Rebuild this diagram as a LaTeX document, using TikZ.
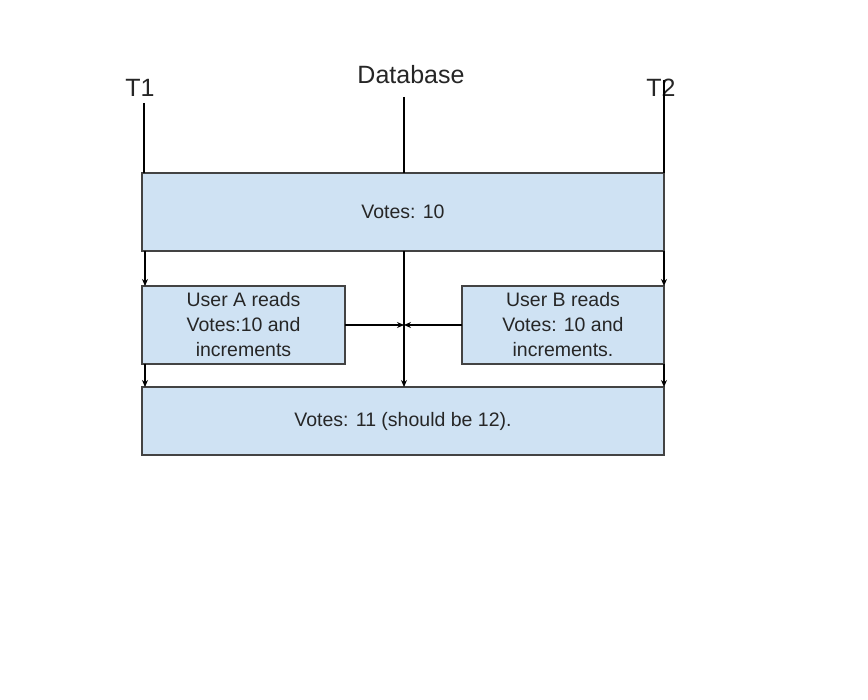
\documentclass[tikz,border=0pt]{standalone}
\usepackage{fontspec}
\setmainfont{Liberation Sans}
\usetikzlibrary{arrows.meta,calc}
\definecolor{boxblue}{HTML}{CFE2F3}
\definecolor{boxline}{HTML}{434343}
\tikzset{
  votebox/.style={draw=boxline,fill=boxblue,line width=1.3pt,inner sep=0pt,outer sep=0pt,
    font=\fontsize{19.5}{25}\selectfont,align=center,text=black!85},
  lbl/.style={font=\fontsize{25}{28}\selectfont,text=black!85},
  arr/.style={-{Stealth[length=7pt,width=6pt]},line width=1.1pt},
  ln/.style={line width=1.1pt}
}
\begin{document}
\begin{tikzpicture}[x=1pt,y=-1pt]
            \useasboundingbox[fill=white] (0,0) rectangle (868,700);
            \node[lbl] (T1) at (140,88){T1};
            \node[lbl] (db) at (411,75){Database};
            \node[lbl] (T2) at (661,88){T2};
            \coordinate (t1top) at (144,103);
            \coordinate (dbtop) at (404,97);
            \coordinate (t2top) at (664,80);
            \node[votebox,minimum width=522pt,minimum height=78pt] (v10) at (403,212){Votes: 10};
            \node[votebox,minimum width=203pt,minimum height=78pt] (userA) at (243.5,325){User A reads\\Votes:10 and\\increments};
            \node[votebox,minimum width=202pt,minimum height=78pt] (userB) at (563,325){User B reads\\Votes: 10 and\\increments.};
            \node[votebox,minimum width=522pt,minimum height=68pt] (v11) at (403,421){Votes: 11 (should be 12).};
            \draw[ln] (t1top) -- (t1top |- v10.north);
            \draw[ln] (dbtop) -- (dbtop |- v10.north);
            \draw[ln] (t2top) -- (t2top |- v10.north);
            \draw[arr] ($(v10.south west)+(3,0)$) -- ($(userA.north west)+(3,0)$);
            \draw[arr] (v10.south east) -- (v10.south east |- userB.north);
            \draw[arr] (dbtop |- v10.south) -- (dbtop |- v11.north);
            \draw[arr] ($(userA.south west)+(3,0)$) -- ($(v11.north west)+(3,0)$);
            \draw[arr] (userB.south east) -- (userB.south east |- v11.north);
            \draw[arr] (userA.east) -- (dbtop |- userA.east);
            \draw[arr] (userB.west) -- (dbtop |- userB.west);
        \end{tikzpicture}
\end{document}
